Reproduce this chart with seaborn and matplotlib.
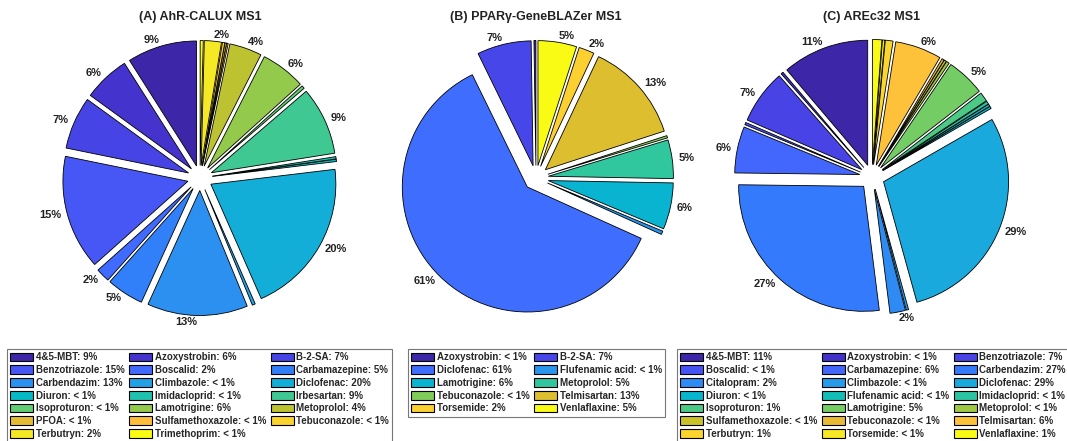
import matplotlib
matplotlib.use("Agg")
import matplotlib.pyplot as plt
from matplotlib.colors import LinearSegmentedColormap
from matplotlib.patches import Patch
import seaborn as sns

# ---- data: relative contribution (%) of each compound per bioassay ----
a_names = ["4&5-MBT", "Azoxystrobin", "B-2-SA", "Benzotriazole", "Boscalid",
           "Carbamazepine", "Carbendazim", "Climbazole", "Diclofenac", "Diuron",
           "Imidacloprid", "Irbesartan", "Isoproturon", "Lamotrigine", "Metoprolol",
           "PFOA", "Sulfamethoxazole", "Tebuconazole", "Terbutryn", "Trimethoprim"]
a_share = [9.0, 6.0, 6.8, 14.8, 1.8, 4.8, 13.0, 0.4, 20.3, 0.3,
           0.3, 8.8, 0.4, 5.8, 4.2, 0.2, 0.2, 0.3, 2.2, 0.4]

b_names = ["Azoxystrobin", "B-2-SA", "Diclofenac", "Flufenamic acid", "Lamotrigine",
           "Metoprolol", "Tebuconazole", "Telmisartan", "Torsemide", "Venlaflaxine"]
b_share = [0.25, 7.0, 61.0, 0.45, 6.0, 5.0, 0.3, 13.0, 2.0, 5.0]

c_names = ["4&5-MBT", "Azoxystrobin", "Benzotriazole", "Boscalid", "Carbamazepine",
           "Carbendazim", "Citalopram", "Climbazole", "Diclofenac", "Diuron",
           "Flufenamic acid", "Imidacloprid", "Isoproturon", "Lamotrigine", "Metoprolol",
           "Sulfamethoxazole", "Tebuconazole", "Telmisartan", "Terbutryn", "Torsemide",
           "Venlaflaxine"]
c_share = [11.2, 0.3, 7.0, 0.3, 6.0, 27.2, 2.0, 0.3, 29.0, 0.3,
           0.3, 0.4, 1.2, 5.0, 0.4, 0.3, 0.3, 6.0, 1.0, 0.3, 1.2]

titles = ["(A) AhR-CALUX MS1", "(B) PPAR\u03b3-GeneBLAZer MS1", "(C) AREc32 MS1"]

# ---- parula-like colormap ----
_anchors = [
    (0, (0.2422, 0.1504, 0.6603)), (16, (0.2704, 0.2138, 0.8346)),
    (32, (0.2813, 0.2985, 0.9397)), (48, (0.2710, 0.3860, 0.9898)),
    (56, (0.2473, 0.4319, 0.9983)), (64, (0.2006, 0.4803, 0.9906)),
    (80, (0.1716, 0.5655, 0.9393)), (96, (0.1288, 0.6408, 0.8910)),
    (112, (0.0433, 0.7039, 0.8242)), (119, (0.0009, 0.7248, 0.7815)),
    (128, (0.0770, 0.7468, 0.7224)), (144, (0.2061, 0.7808, 0.6065)),
    (160, (0.3671, 0.8021, 0.4563)), (176, (0.5886, 0.7913, 0.2833)),
    (192, (0.7945, 0.7554, 0.1570)), (208, (0.9523, 0.7284, 0.2237)),
    (214, (0.9946, 0.7407, 0.2394)), (224, (0.9938, 0.7974, 0.1974)),
    (232, (0.9748, 0.8467, 0.1726)), (240, (0.9601, 0.8963, 0.1507)),
    (255, (0.9769, 0.9839, 0.0805)),
]
parula = LinearSegmentedColormap.from_list("parula", [(i / 255, c) for i, c in _anchors])

sns.set_theme(style="white")
plt.rcParams["font.family"] = ["Liberation Sans", "DejaVu Sans"]

W, H = 1067, 441
fig = plt.figure(figsize=(W / 100, H / 100), dpi=100)
fig.patch.set_facecolor("white")

R_PX = 125.0      # pie radius in pixels
LIM = 1.3         # axis half-range in data units


def draw_panel(cx, cy, title, names, shares, leg_x, leg_y, ncol):
    n = len(names)
    colors = sns.color_palette([parula(i / (n - 1)) for i in range(n)])
    total = sum(shares)
    pct = [s / total * 100 for s in shares]
    pie_labels = [f"{round(p)}%" if round(p) >= 2 else "" for p in pct]
    leg_labels = [f"{nm}: {round(p)}%" if round(p) >= 1 else f"{nm}: < 1%"
                  for nm, p in zip(names, pct)]

    size = 2 * LIM * R_PX
    ax = fig.add_axes([(cx - size / 2) / W, (H - cy - size / 2) / H, size / W, size / H])
    ax.pie(shares, explode=[0.1] * n, colors=colors, startangle=90, counterclock=True,
           labels=pie_labels, labeldistance=1.05,
           wedgeprops=dict(edgecolor="black", linewidth=0.6),
           textprops=dict(fontsize=8, fontweight="bold", color="#222222"))
    ax.set_xlim(-LIM, LIM)
    ax.set_ylim(-LIM, LIM)
    ax.set_aspect("equal")
    ax.axis("off")

    fig.text(cx / W, 1 - 17 / H, title, ha="center", va="center",
             fontsize=9, fontweight="bold", color="#222222")

    handles = [Patch(facecolor=c, edgecolor="black", linewidth=0.8) for c in colors]
    order = [i for c in range(ncol) for i in range(c, n, ncol)]
    leg = fig.legend([handles[i] for i in order], [leg_labels[i] for i in order],
                     loc="upper left", bbox_to_anchor=(leg_x / W, 1 - leg_y / H),
                     ncol=ncol, prop=dict(size=7, weight="bold"),
                     frameon=True, fancybox=False, edgecolor="#555555",
                     borderpad=0.35, handlelength=2.35, handleheight=1.0,
                     handletextpad=0.25, columnspacing=0.5, labelspacing=0.28,
                     borderaxespad=0)
    leg.get_frame().set_linewidth(0.8)


draw_panel(200, 178, titles[0], a_names, a_share, 7, 349, 3)
draw_panel(536, 178, titles[1], b_names, b_share, 408, 349, 2)
draw_panel(872, 177, titles[2], c_names, c_share, 677, 349, 3)

fig.savefig("out.png", dpi=100)
